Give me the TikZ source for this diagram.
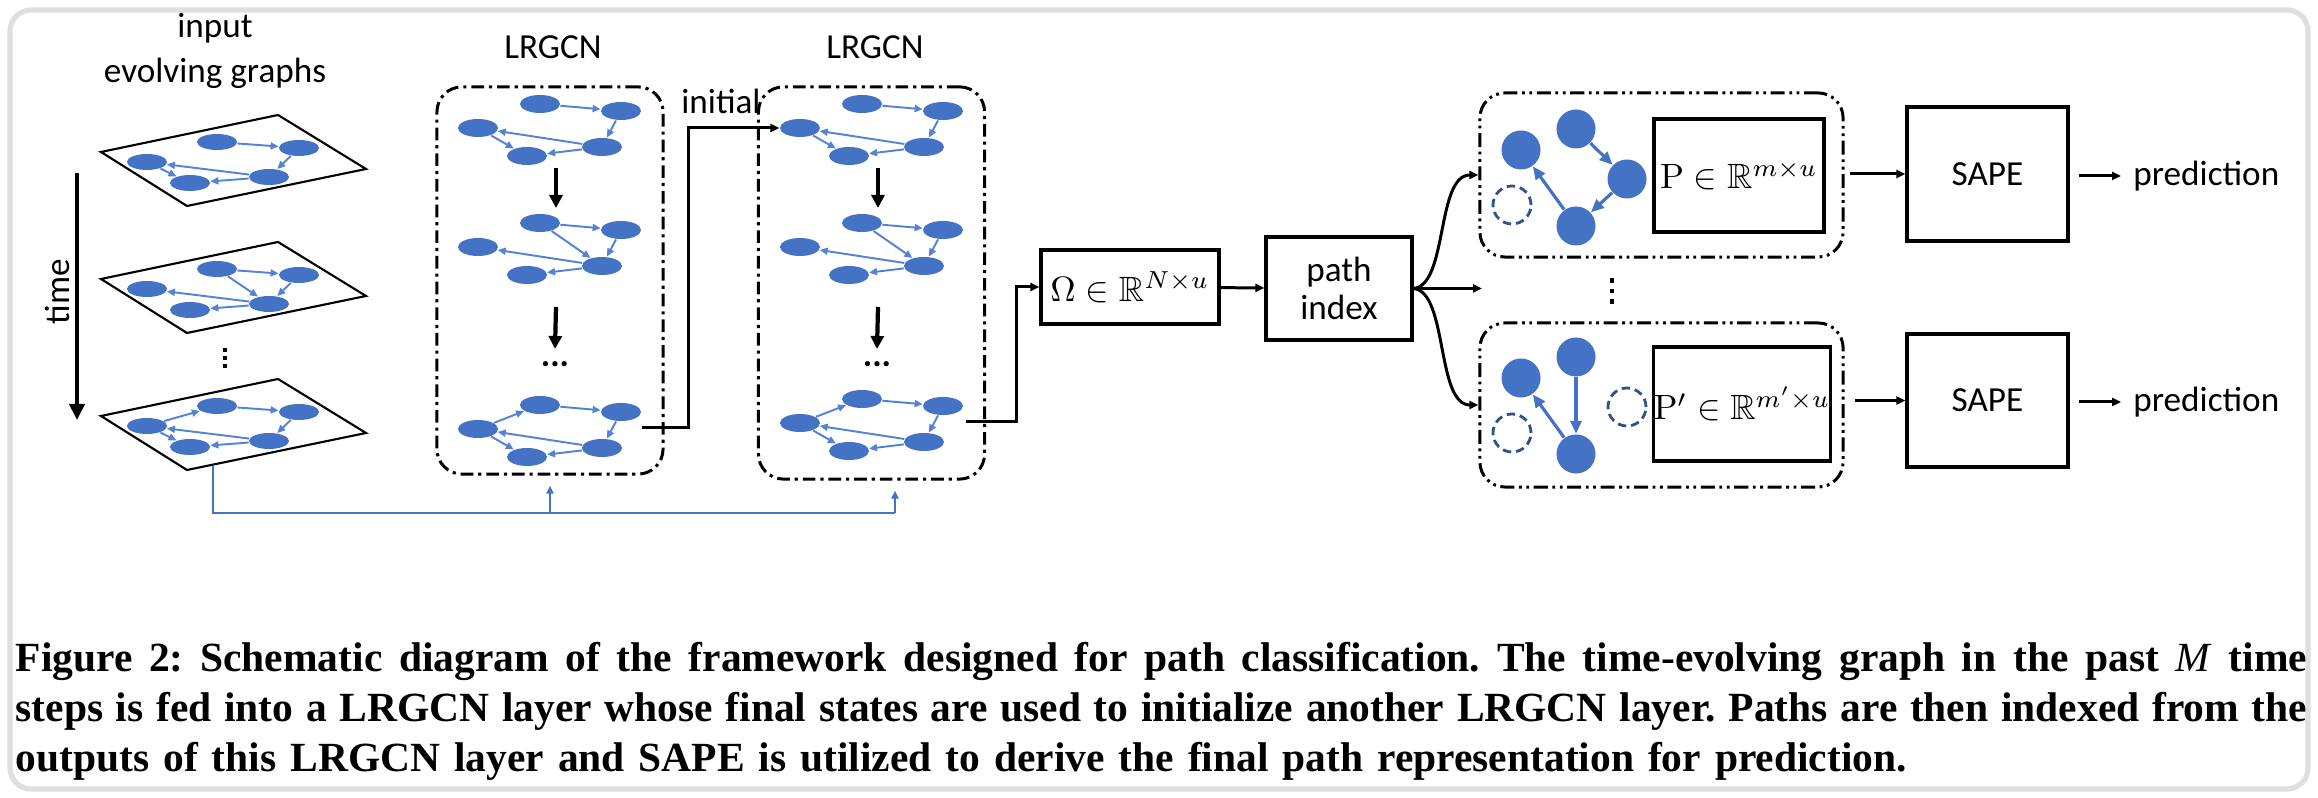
\documentclass[tikz,border=0pt]{standalone}
\usepackage{amsmath}
\usepackage{amssymb}
\usepackage[no-math]{fontspec}
\setmainfont{Carlito}
\newfontfamily\capfont{Liberation Serif}
\usetikzlibrary{arrows.meta,shapes.geometric}
\frenchspacing

\definecolor{nodeblue}{RGB}{68,114,196}
\definecolor{edgeblue}{RGB}{84,130,212}
\definecolor{ringblue}{RGB}{47,82,143}

\tikzset{
  gnode/.style={ellipse, fill=nodeblue, minimum width=4mm, minimum height=1.6mm, inner sep=0pt},
  bnode/.style={gnode, minimum height=1.8mm},
  gedge/.style={edgeblue, line width=0.55pt, -{Triangle[length=0.8mm,width=0.7mm]}},
  planeedge/.style={line width=0.6pt},
  lrbox/.style={draw, line width=0.85pt, rounded corners=2.5mm, dash pattern=on 3.6pt off 1.4pt on 0.9pt off 1.4pt, minimum width=2.26cm},
  pathbox/.style={draw, line width=0.85pt, rounded corners=2.5mm, dash pattern=on 4pt off 1.3pt on 0.8pt off 1.3pt on 0.8pt off 1.3pt, minimum width=3.63cm, minimum height=1.64cm},
  blk/.style={draw, line width=0.9pt, inner sep=0pt},
  conn/.style={line width=0.85pt, -{Triangle[length=0.9mm,width=0.8mm]}},
  flow/.style={line width=1.2pt, -{Triangle[length=1.3mm,width=1.3mm]}},
  feed/.style={nodeblue, line width=0.6pt},
  feedup/.style={feed, shorten >=1mm, -{Triangle[length=0.8mm,width=0.7mm]}},
  pnode/.style={circle, fill=nodeblue, minimum size=3.9mm, inner sep=0pt},
  ghost/.style={circle, draw=ringblue, line width=0.8pt, dash pattern=on 2.4pt off 1.4pt, minimum size=3.8mm, inner sep=0pt},
  pedge/.style={nodeblue, line width=0.9pt, -{Triangle[length=1.3mm,width=1.1mm]}},
  capline/.style={anchor=base west, inner sep=0pt, font=\capfont\bfseries\fontsize{11.8}{13}\selectfont}
}

% three stacked dots: gap, dot size
\newcommand{\vdotsm}[2]{\vbox{\offinterlineskip\hbox{\rule{#2}{#2}}\kern#1\hbox{\rule{#2}{#2}}\kern#1\hbox{\rule{#2}{#2}}}}

% one input snapshot on its plane
\newcommand{\planegraph}[3]{%
  \begin{scope}[shift={(0,#2)}]
    \draw[planeedge] (101,152) -- (278,115) -- (366,169) -- (187,206) -- cycle;
    \node[gnode] (#1a) at (217,142) {};
    \node[gnode] (#1b) at (299,148) {};
    \node[gnode] (#1c) at (147,162) {};
    \node[gnode] (#1d) at (269,177) {};
    \node[gnode] (#1e) at (190,183) {};
  \end{scope}
  \foreach \src/\dst in {#3} \draw[gedge] (#1\src) -- (#1\dst);}

% one snapshot inside a LRGCN box
\newcommand{\boxgraph}[4]{%
  \begin{scope}[shift={(#2,#3)}]
    \node[bnode] (#1a) at (540,104) {};
    \node[bnode] (#1b) at (621,111) {};
    \node[bnode] (#1c) at (478,128) {};
    \node[bnode] (#1d) at (602,147) {};
    \node[bnode] (#1e) at (527,156) {};
  \end{scope}
  \foreach \src/\dst in {#4} \draw[gedge] (#1\src) -- (#1\dst);}

\begin{document}
\begin{tikzpicture}[x=0.01cm, y=-0.01cm]
        \useasboundingbox (0,0) rectangle (2318,798);
        \draw[gray!25, line width=1.5pt, rounded corners=6pt] (10,10) rectangle (2308,789);

        % input evolving graphs
        \node[align=center] (In) at (215,51) {input\\[1pt]evolving graphs};
        \node[rotate=90] (Tm) at (57,292) {time};
        \draw[line width=1.1pt, -{Triangle[length=1.6mm,width=1.5mm]}] (77,173) -- (77,420);
        \planegraph{P1}{0}{a/b,b/d,d/c,c/e,d/e}
        \planegraph{P2}{127}{a/b,a/d,b/d,d/c,d/e}
        \node (Vd) at (225,358) {\vdotsm{1.2pt}{1.1pt}};
        \planegraph{P3}{264}{c/a,a/b,b/d,d/c,c/e,d/e}

        % two LRGCN layers
        \node (T1) at (553,47) {LRGCN};
        \node (T2) at (875,47) {LRGCN};
        \node[lrbox, minimum height=3.87cm] (L1) at (550,280.5) {};
        \node[lrbox, minimum height=3.92cm] (L2) at (871.5,283) {};
        \boxgraph{A1}{0}{0}{a/b,b/d,d/c,c/e,d/e}
        \boxgraph{A2}{0}{119}{a/b,a/d,b/d,d/c,d/e}
        \boxgraph{A3}{0}{301}{c/a,a/b,b/d,d/c,c/e,d/e}
        \boxgraph{B1}{322}{0}{a/b,b/d,d/c,c/e,d/e}
        \boxgraph{B2}{322}{119}{a/b,a/d,b/d,d/c,d/e}
        \boxgraph{B3}{322}{295}{c/a,a/b,b/d,d/c,c/e,d/e}
        \node (D1) at (555,364) {\textbf{...}};
        \node (D2) at (877,364) {\textbf{...}};
        \draw[flow] (556,168) -- (556,208);
        \draw[flow] (556,307) -- (D1.north);
        \draw[flow] (878,168) -- (878,208);
        \draw[flow] (878,307) -- (D2.north);

        % feeding the input into both layers
        \coordinate (P3b) at (213,466);
        \coordinate (FB) at (895,513);
        \draw[feed] (P3b) |- (FB);
        \draw[feedup] (L1.south |- FB) -- (L1.south);
        \draw[feedup] (FB) -- (FB |- L2.south);

        % initial states and outputs
        \coordinate (O1) at (642,428);
        \draw[conn] (O1) -- (688,428) |- (B1c.west);
        \node (Ini) at (721,101) {initial};
        \node[blk, minimum width=1.78cm, minimum height=0.74cm] (Om) at (1130,287) {$\Omega \in \mathbb{R}^{N\times u}$};
        \coordinate (O2) at (966,422);
        \draw[conn] (O2) -- (1016,422) |- (Om.west);
        \node[blk, minimum width=1.46cm, minimum height=1.03cm, align=center] (PI) at (1339,288.5) {path\\[-1pt]index};
        \draw[conn] (Om) -- (PI);

        % indexed paths
        \node[pathbox] (PB1) at (1661.5,175) {};
        \node[pathbox] (PB2) at (1661.5,405) {};
        \coordinate (MB) at (1482,288.5);
        \draw[conn] (PI.east) .. controls (1448,285) and (1436,175) .. (PB1.west);
        \draw[conn] (PI.east) -- (MB);
        \draw[conn] (PI.east) .. controls (1448,292) and (1436,405) .. (PB2.west);
        \node (Vd2) at (1612,291) {\vdotsm{1.5pt}{1.4pt}};

        \node[pnode] (QA) at (1521,150) {};
        \node[pnode] (QB) at (1576,129) {};
        \node[pnode] (QC) at (1627,179) {};
        \node[pnode] (QD) at (1576,226) {};
        \node[ghost] (QX) at (1512,205) {};
        \draw[pedge] (QB) -- (QC);
        \draw[pedge] (QC) -- (QD);
        \draw[pedge] (QD) -- (QA);
        \node[blk, minimum width=1.7cm, minimum height=1.13cm] (PM1) at (1739,175.5) {$\mathrm{P}\in\mathbb{R}^{m\times u}$};

        \node[pnode] (RA) at (1521,378) {};
        \node[pnode] (RB) at (1576,357) {};
        \node[pnode] (RD) at (1576,454) {};
        \node[ghost] (RX) at (1512,433) {};
        \node[ghost] (RY) at (1627,407) {};
        \draw[pedge] (RB) -- (RD);
        \draw[pedge] (RD) -- (RA);
        \node[blk, minimum width=1.7cm, minimum height=1.14cm] (PM2) at (1742,404) {$\mathrm{P}'\in\mathbb{R}^{m'\times u}$};

        % SAPE and prediction
        \node[blk, minimum width=1.61cm, minimum height=1.34cm] (S1) at (1987.5,174) {SAPE};
        \node[blk, minimum width=1.61cm, minimum height=1.33cm] (S2) at (1987.5,400.5) {SAPE};
        \node[anchor=west] (Pr1) at (2121,176) {prediction};
        \node[anchor=west] (Pr2) at (2121,402) {prediction};
        \draw[conn, shorten <=0.5mm] (PB1.east |- S1.west) -- (S1.west);
        \draw[conn, shorten <=1mm] (PB2.east |- S2.west) -- (S2.west);
        \draw[conn, shorten <=0.9mm] (S1.east |- Pr1.west) -- (Pr1.west);
        \draw[conn, shorten <=0.9mm] (S2.east |- Pr2.west) -- (Pr2.west);

        % caption
        \node[capline] (C1) at (15,672) {\makebox[22.9cm][s]{Figure 2: Schematic diagram of the framework designed for path classification. The time-evolving graph in the past \textit{\mdseries M} time}};
        \node[capline] (C2) at (15,722) {\makebox[22.9cm][s]{steps is fed into a LRGCN layer whose final states are used to initialize another LRGCN layer. Paths are then indexed from the}};
        \node[capline] (C3) at (15,772) {\makebox[18.9cm][s]{outputs of this LRGCN layer and SAPE is utilized to derive the final path representation for prediction.}};
\end{tikzpicture}
\end{document}
